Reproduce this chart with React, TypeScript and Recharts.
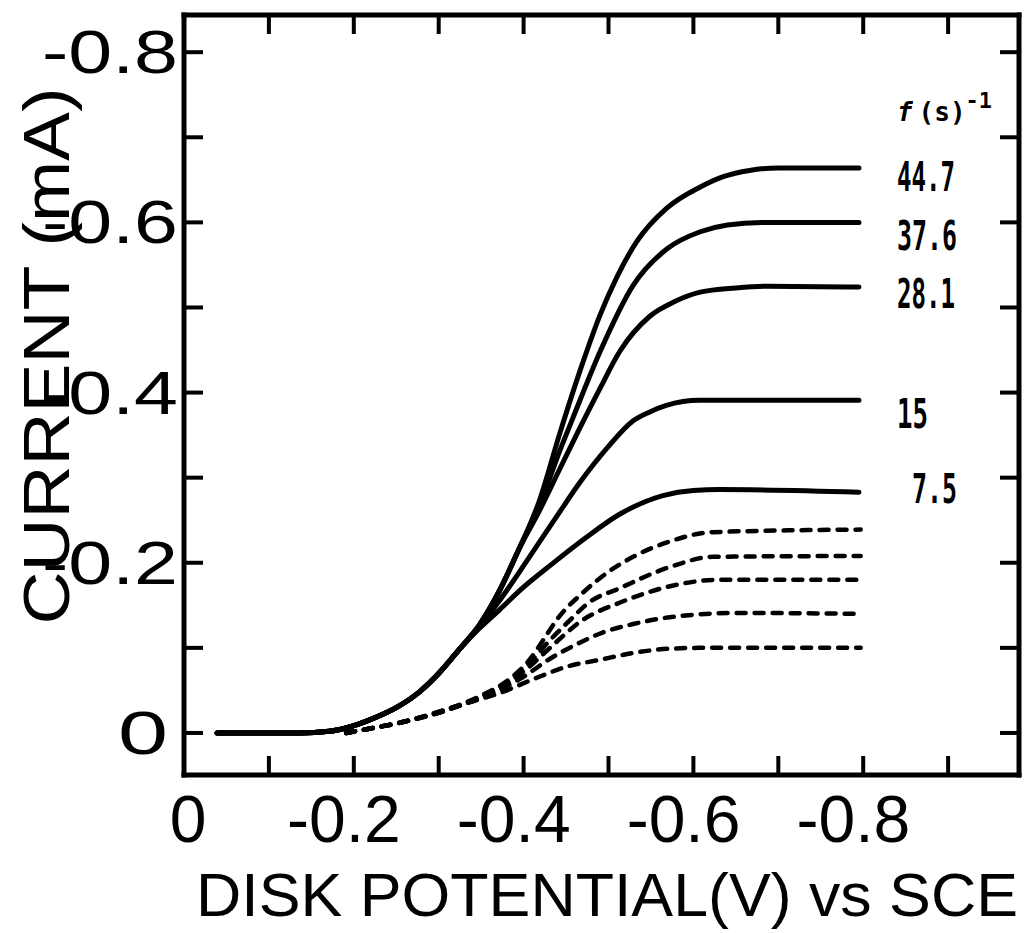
import React from 'react';
import { LineChart, Line, XAxis, YAxis } from 'recharts';

type Pair = [number, number];

// Axis ticks (disk potential in V vs SCE, current in mA)
const potentialTicks = [0, -0.1, -0.2, -0.3, -0.4, -0.5, -0.6, -0.7, -0.8, -0.9];
const potentialTickLabels = ['0', '', '-0.2', '', '-0.4', '', '-0.6', '', '-0.8', ''];
const currentTicks = [0, -0.1, -0.2, -0.3, -0.4, -0.5, -0.6, -0.7, -0.8];
const currentTickLabels = ['0', '', '-0.2', '', '-0.4', '', '-0.6', '', '-0.8'];

const potentialDomain: [number, number] = [-0.9835, 0];
const currentDomain: [number, number] = [-0.8437, 0.0494];

// Rotation rates f (s^-1) for the solid curves
const rotationRates = ['44.7', '37.6', '28.1', '15', '7.5'];

// Solid curves: [potential V, current mA]
const curve447: Pair[] = [
  [-0.039, 0], [-0.136, 0], [-0.171, -0.002], [-0.195, -0.007], [-0.218, -0.015],
  [-0.254, -0.032], [-0.277, -0.048], [-0.301, -0.071], [-0.324, -0.098], [-0.348, -0.127],
  [-0.372, -0.168], [-0.395, -0.217], [-0.419, -0.274], [-0.442, -0.35], [-0.47, -0.436],
  [-0.49, -0.491], [-0.51, -0.536], [-0.533, -0.577], [-0.569, -0.617], [-0.607, -0.641],
  [-0.636, -0.654], [-0.666, -0.661], [-0.7, -0.664], [-0.795, -0.664],
];
const curve376: Pair[] = [
  [-0.039, 0], [-0.136, 0], [-0.171, -0.002], [-0.195, -0.007], [-0.218, -0.015],
  [-0.254, -0.032], [-0.277, -0.048], [-0.301, -0.071], [-0.324, -0.098], [-0.348, -0.127],
  [-0.372, -0.168], [-0.395, -0.217], [-0.419, -0.268], [-0.442, -0.33], [-0.458, -0.37],
  [-0.49, -0.448], [-0.529, -0.526], [-0.569, -0.569], [-0.608, -0.589], [-0.64, -0.597],
  [-0.68, -0.6], [-0.795, -0.6],
];
const curve281: Pair[] = [
  [-0.039, 0], [-0.136, 0], [-0.171, -0.002], [-0.195, -0.007], [-0.218, -0.015],
  [-0.254, -0.032], [-0.277, -0.048], [-0.301, -0.071], [-0.324, -0.098], [-0.348, -0.127],
  [-0.372, -0.168], [-0.395, -0.217], [-0.419, -0.262], [-0.442, -0.309], [-0.466, -0.358],
  [-0.49, -0.405], [-0.513, -0.448], [-0.549, -0.49], [-0.578, -0.507], [-0.608, -0.518],
  [-0.65, -0.523], [-0.687, -0.525], [-0.795, -0.524],
];
const curve15: Pair[] = [
  [-0.039, 0], [-0.136, 0], [-0.171, -0.002], [-0.195, -0.007], [-0.218, -0.015],
  [-0.254, -0.032], [-0.277, -0.048], [-0.301, -0.071], [-0.324, -0.098], [-0.348, -0.125],
  [-0.372, -0.156], [-0.407, -0.207], [-0.442, -0.259], [-0.466, -0.294], [-0.501, -0.338],
  [-0.528, -0.366], [-0.548, -0.377], [-0.568, -0.385], [-0.607, -0.391], [-0.795, -0.391],
];
const curve75: Pair[] = [
  [-0.039, 0], [-0.136, 0], [-0.171, -0.002], [-0.195, -0.007], [-0.218, -0.015],
  [-0.254, -0.032], [-0.277, -0.048], [-0.301, -0.071], [-0.324, -0.098], [-0.348, -0.123],
  [-0.372, -0.145], [-0.395, -0.167], [-0.434, -0.199], [-0.474, -0.23], [-0.513, -0.257],
  [-0.564, -0.279], [-0.6, -0.285], [-0.631, -0.286], [-0.795, -0.283],
];

// Dashed curves: [potential V, current mA]
const dashed24: Pair[] = [
  [-0.191, 0], [-0.218, -0.005], [-0.254, -0.012], [-0.301, -0.025], [-0.348, -0.043],
  [-0.383, -0.063], [-0.407, -0.086], [-0.425, -0.112], [-0.439, -0.133], [-0.47, -0.165],
  [-0.498, -0.188], [-0.529, -0.207], [-0.569, -0.224], [-0.623, -0.236], [-0.797, -0.239],
];
const dashed21: Pair[] = [
  [-0.191, 0], [-0.218, -0.005], [-0.254, -0.012], [-0.301, -0.025], [-0.348, -0.042],
  [-0.383, -0.061], [-0.407, -0.082], [-0.431, -0.109], [-0.451, -0.129], [-0.478, -0.154],
  [-0.513, -0.17], [-0.572, -0.195], [-0.623, -0.207], [-0.797, -0.208],
];
const dashed18: Pair[] = [
  [-0.191, 0], [-0.218, -0.005], [-0.254, -0.012], [-0.301, -0.025], [-0.348, -0.041],
  [-0.383, -0.059], [-0.407, -0.078], [-0.431, -0.1], [-0.47, -0.133], [-0.513, -0.153],
  [-0.549, -0.166], [-0.584, -0.175], [-0.631, -0.18], [-0.797, -0.18],
];
const dashed14: Pair[] = [
  [-0.191, 0], [-0.218, -0.005], [-0.254, -0.012], [-0.301, -0.024], [-0.333, -0.035],
  [-0.372, -0.051], [-0.395, -0.063], [-0.434, -0.089], [-0.466, -0.106], [-0.493, -0.118],
  [-0.529, -0.128], [-0.572, -0.136], [-0.651, -0.141], [-0.797, -0.14],
];
const dashed10: Pair[] = [
  [-0.191, 0], [-0.218, -0.005], [-0.254, -0.012], [-0.301, -0.024], [-0.333, -0.035],
  [-0.372, -0.047], [-0.411, -0.063], [-0.451, -0.078], [-0.49, -0.086], [-0.529, -0.094],
  [-0.572, -0.099], [-0.608, -0.1], [-0.797, -0.1],
];

const toPoints = (pairs: Pair[]) => pairs.map(([v, i]) => ({ v, i }));

const solidSeries = [curve447, curve376, curve281, curve15, curve75];
const dashedSeries = [dashed24, dashed21, dashed18, dashed14, dashed10];

// label placement relative to the end of each solid curve
const rateLabelStyle = [
  { dx: 38, dy: 23, w: 58 },
  { dx: 38, dy: 28, w: 60 },
  { dx: 38, dy: 21, w: 58 },
  { dx: 38, dy: 28, w: 31 },
  { dx: 53, dy: 11, w: 45 },
];

const INK = '#000';
const TICK_LEN = 19;
const labelFont = '"Liberation Sans", Arial, sans-serif';
const handFont = '"DejaVu Sans Mono", monospace';

const lookup = (ticks: number[], labels: string[], value: number) => {
  const idx = ticks.findIndex((t) => Math.abs(t - value) < 1e-6);
  return idx >= 0 ? labels[idx] : '';
};

const BottomTick = (props: any) => {
  const { x, y, payload } = props;
  const text = lookup(potentialTicks, potentialTickLabels, payload.value);
  return (
    <g>
      <line x1={x} y1={y} x2={x} y2={y - TICK_LEN} stroke={INK} strokeWidth={4} />
      {text !== '' && (
        <text
          x={text === '0' ? x + 4 : x + 47}
          y={y + 67}
          textAnchor={text === '0' ? 'middle' : 'end'}
          fontFamily={labelFont}
          fontSize={66}
          fill={INK}
        >
          {text}
        </text>
      )}
    </g>
  );
};

const TopTick = (props: any) => {
  const { x, y } = props;
  return <line x1={x} y1={y} x2={x} y2={y + TICK_LEN} stroke={INK} strokeWidth={4} />;
};

const LeftTick = (props: any) => {
  const { x, y, payload } = props;
  const text = lookup(currentTicks, currentTickLabels, payload.value);
  const isZero = text === '0';
  return (
    <g>
      <line x1={x} y1={y} x2={x + TICK_LEN} y2={y} stroke={INK} strokeWidth={4} />
      {text !== '' && (
        <text
          x={isZero ? x - 16 : x - 6}
          y={y + 21}
          textAnchor="end"
          fontFamily={labelFont}
          fontSize={61}
          fill={INK}
          textLength={isZero ? 50 : 136}
          lengthAdjust="spacingAndGlyphs"
        >
          {text}
        </text>
      )}
    </g>
  );
};

const RightTick = (props: any) => {
  const { x, y } = props;
  return <line x1={x} y1={y} x2={x - TICK_LEN} y2={y} stroke={INK} strokeWidth={4} />;
};

const XTitle = (props: any) => {
  const vb = props.viewBox || { x: 184, y: 775, width: 835 };
  return (
    <text
      x={vb.x + 423}
      y={vb.y + 141}
      textAnchor="middle"
      fontFamily={labelFont}
      fontSize={62}
      fill={INK}
      textLength={822}
      lengthAdjust="spacingAndGlyphs"
    >
      DISK POTENTIAL(V) vs SCE
    </text>
  );
};

const YTitle = (props: any) => {
  const vb = props.viewBox || { x: 0, y: 15, height: 760 };
  const cx = vb.x + 69;
  const cy = vb.y + 341;
  return (
    <text
      x={cx}
      y={cy}
      transform={`rotate(-90 ${cx} ${cy})`}
      textAnchor="middle"
      fontFamily={labelFont}
      fontSize={64}
      fill={INK}
      textLength={537}
      lengthAdjust="spacingAndGlyphs"
    >
      CURRENT (mA)
    </text>
  );
};

const makeRateLabel = (seriesIndex: number, count: number) => (props: any) => {
  const { x, y, index } = props;
  if (index !== count - 1) return null;
  const s = rateLabelStyle[seriesIndex];
  return (
    <g>
      {seriesIndex === 0 && (
        <text x={x + s.dx} y={y - 47} fontFamily={handFont} fontWeight="bold" fontSize={26} fill={INK}>
          <tspan fontStyle="italic">f</tspan>
          <tspan dx={6}>(s)</tspan>
          <tspan dy={-13} fontSize={22}>-1</tspan>
        </text>
      )}
      <text
        x={x + s.dx}
        y={y + s.dy}
        fontFamily={handFont}
        fontWeight="bold"
        fontSize={40}
        fill={INK}
        textLength={s.w}
        lengthAdjust="spacingAndGlyphs"
      >
        {rotationRates[seriesIndex]}
      </text>
    </g>
  );
};

export default function App() {
  return (
    <div style={{ position: 'absolute', left: 0, top: 0, background: '#fff' }}>
      <LineChart width={1029} height={933} margin={{ top: 0, right: 0, bottom: 0, left: 0 }}>
        <XAxis
          xAxisId={0}
          dataKey="v"
          type="number"
          domain={potentialDomain}
          allowDataOverflow
          reversed
          ticks={potentialTicks}
          interval={0}
          orientation="bottom"
          height={158}
          tickSize={0}
          tickMargin={0}
          tickLine={false}
          tick={<BottomTick />}
          axisLine={{ stroke: INK, strokeWidth: 5, strokeLinecap: 'square' }}
          label={<XTitle />}
        />
        <XAxis
          xAxisId="top"
          dataKey="v"
          type="number"
          domain={potentialDomain}
          allowDataOverflow
          reversed
          ticks={potentialTicks}
          interval={0}
          orientation="top"
          height={15}
          tickSize={0}
          tickMargin={0}
          tickLine={false}
          tick={<TopTick />}
          axisLine={{ stroke: INK, strokeWidth: 5, strokeLinecap: 'square' }}
        />
        <YAxis
          yAxisId={0}
          type="number"
          domain={currentDomain}
          allowDataOverflow
          reversed
          ticks={currentTicks}
          interval={0}
          orientation="left"
          width={184}
          tickSize={0}
          tickMargin={0}
          tickLine={false}
          tick={<LeftTick />}
          axisLine={{ stroke: INK, strokeWidth: 5, strokeLinecap: 'square' }}
          label={<YTitle />}
        />
        <YAxis
          yAxisId="right"
          type="number"
          domain={currentDomain}
          allowDataOverflow
          reversed
          ticks={currentTicks}
          interval={0}
          orientation="right"
          width={10}
          tickSize={0}
          tickMargin={0}
          tickLine={false}
          tick={<RightTick />}
          axisLine={{ stroke: INK, strokeWidth: 5, strokeLinecap: 'square' }}
        />
        {dashedSeries.map((pairs, k) => (
          <Line
            key={`d${k}`}
            data={toPoints(pairs)}
            dataKey="i"
            type="monotone"
            stroke={INK}
            strokeWidth={4.5}
            strokeDasharray="9 9"
            strokeLinecap="round"
            dot={false}
            activeDot={false}
            isAnimationActive={false}
          />
        ))}
        {solidSeries.map((pairs, k) => (
          <Line
            key={`s${k}`}
            data={toPoints(pairs)}
            dataKey="i"
            type="monotone"
            stroke={INK}
            strokeWidth={5}
            strokeLinecap="round"
            dot={false}
            activeDot={false}
            isAnimationActive={false}
            label={makeRateLabel(k, pairs.length)}
          />
        ))}
      </LineChart>
    </div>
  );
}
